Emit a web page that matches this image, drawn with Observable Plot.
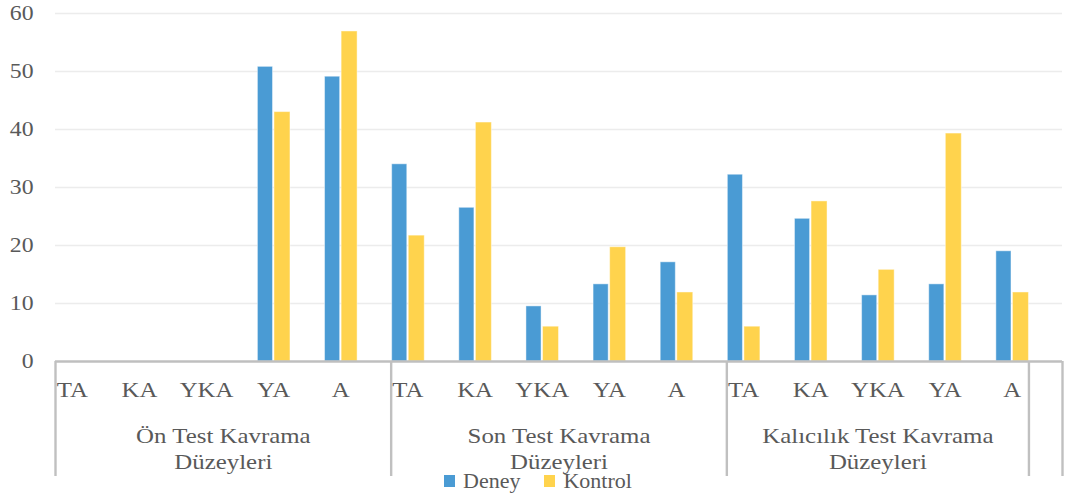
<!DOCTYPE html>
<html><head><meta charset="utf-8">
<script src="https://cdn.jsdelivr.net/npm/d3@7"></script>
<script src="https://cdn.jsdelivr.net/npm/@observablehq/plot@0.6"></script>
<style>
body{margin:0;background:#fff;}
#wrap{position:relative;width:1065px;height:497px;}
#legend{position:absolute;left:444px;top:470px;display:flex;align-items:center;font-family:'Liberation Serif','Times New Roman','DejaVu Serif',serif;font-size:22px;color:#595959;line-height:22px;white-space:nowrap;}
#legend .sw{width:11px;height:12px;margin-right:8px;}
#legend .it{display:flex;align-items:center;margin-right:24px;}
svg text{font-family:'Liberation Serif','Times New Roman','DejaVu Serif',serif;}
</style></head><body><div id="wrap"><div id="legend"></div></div>
<script>
const groups = ["Ön Test Kavrama Düzeyleri", "Son Test Kavrama Düzeyleri", "Kalıcılık Test Kavrama Düzeyleri"];
const levels = ["TA", "KA", "YKA", "YA", "A"];
const series = ["Deney", "Kontrol"];
const deney   = [0, 0, 0, 50.8, 49.1,  34.0, 26.5, 9.5, 13.3, 17.1,  32.2, 24.6, 11.4, 13.3, 19.0];
const kontrol = [0, 0, 0, 43.0, 56.9,  21.7, 41.2, 6.0, 19.7, 11.9,   6.0, 27.6, 15.8, 39.3, 11.9];
const yTicks = [0, 10, 20, 30, 40, 50, 60];
const colors = ["#4a9bd4", "#ffd34d"];

// build tables
const cats = groups.flatMap((g, gi) => levels.map((l, li) => ({group: g, level: l, i: gi * levels.length + li})));
const n = cats.length;
const values = {Deney: deney, Kontrol: kontrol};
const rows = cats.flatMap(c => series.map((s, si) => ({...c, series: s, si, value: values[s][c.i]})));
const grp = groups.map((g, gi) => {
  const start = gi * levels.length;
  const end = Math.min(start + levels.length, n - 0.5);
  const words = g.split(" ");
  return {name: g, start, end, mid: (start + end) / 2, line1: words.slice(0, -1).join(" "), line2: words[words.length - 1]};
});
const seps = [...grp.map(d => d.start), grp[grp.length - 1].end, n];

const font = "'Liberation Serif','Times New Roman','DejaVu Serif',serif";
const plot = Plot.plot({
  width: 1065, height: 497,
  marginLeft: 55, marginRight: 3, marginTop: 13, marginBottom: 136,
  style: {fontFamily: font, color: "#595959", background: "#fff", overflow: "visible"},
  x: {domain: [0, n], axis: null},
  y: {domain: [0, 60], axis: null},
  color: {domain: series, range: colors},
  marks: [
    Plot.ruleY(yTicks.filter(d => d > 0), {stroke: "#ececec", strokeWidth: 1.6}),
    Plot.rectY(rows, {
      x1: d => d.i + (d.si === 0 ? 0.015 : 0.262),
      x2: d => d.i + (d.si === 0 ? 0.24 : 0.5),
      y1: 0, y2: "value", fill: "series",
      stroke: "#ffffff", strokeOpacity: 0.45, strokeWidth: 1
    }),
    Plot.ruleY([0], {stroke: "#bfbfbf", strokeWidth: 2.6}),
    Plot.ruleX(seps, {x: d => d, y1: 0, y2: 0, insetBottom: -115, stroke: "#c0c0c0", strokeWidth: 2.4}),
    Plot.text(yTicks, {x: 0, y: d => d, text: d => String(d), textAnchor: "end", dx: -22, fontSize: 21, fill: "#595959"}),
    Plot.text(cats, {x: d => d.i + 0.25, y: 0, text: "level", dy: 28, fontSize: 22, fill: "#595959"}),
    Plot.text(grp, {x: "mid", y: 0, text: "line1", dy: 74, fontSize: 22, fill: "#595959"}),
    Plot.text(grp, {x: "mid", y: 0, text: "line2", dy: 100, fontSize: 22, fill: "#595959"})
  ]
});
document.getElementById("wrap").prepend(plot);
plot.querySelectorAll("text").forEach(t => {
  if (t.querySelector("tspan")) return;
  const w = t.getComputedTextLength();
  if (w > 0) {
    t.setAttribute("textLength", (w * 1.13).toFixed(2));
    t.setAttribute("lengthAdjust", "spacingAndGlyphs");
  }
});
const leg = document.getElementById("legend");
series.forEach((s, si) => {
  const it = document.createElement("div");
  it.className = "it";
  const sw = document.createElement("div");
  sw.className = "sw";
  sw.style.background = colors[si];
  const tx = document.createElement("span");
  tx.textContent = s;
  it.append(sw, tx);
  leg.append(it);
});
</script></body></html>
